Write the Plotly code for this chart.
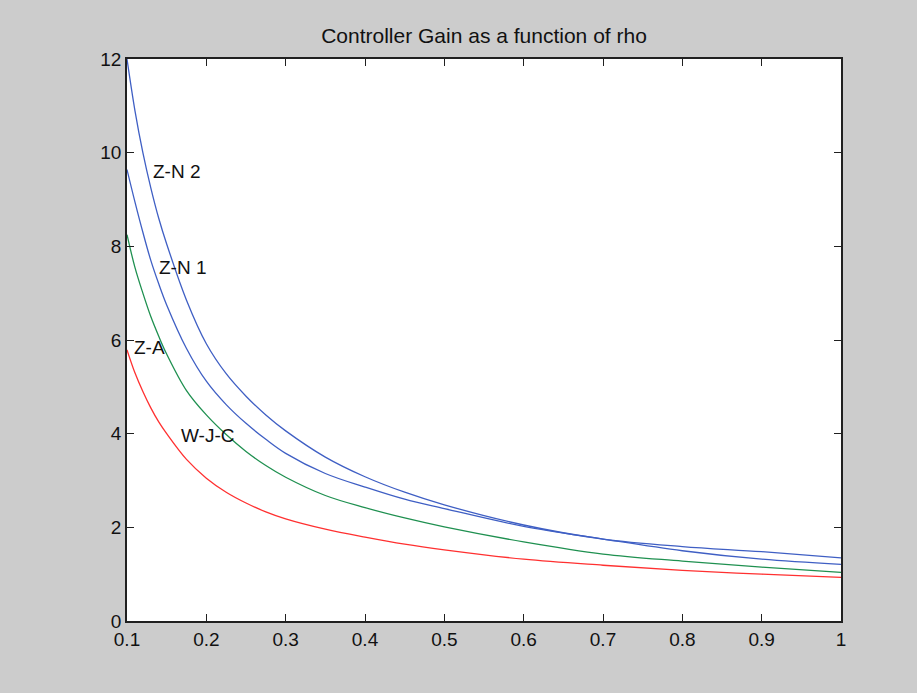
import plotly.graph_objects as go

rho = [0.1, 0.11, 0.12, 0.13, 0.14, 0.15, 0.175, 0.2, 0.225, 0.25, 0.275, 0.3,
       0.35, 0.4, 0.45, 0.5, 0.6, 0.7, 0.8, 0.9, 1.0]
zn2 = [12.0, 10.9, 10.0, 9.25, 8.6, 8.05, 6.85, 5.92, 5.28, 4.8, 4.4, 4.06,
       3.5, 3.08, 2.75, 2.48, 2.05, 1.75, 1.59, 1.48, 1.35]
zn1 = [9.64, 8.95, 8.3, 7.7, 7.2, 6.75, 5.82, 5.12, 4.62, 4.22, 3.88, 3.58,
       3.15, 2.86, 2.6, 2.4, 2.02, 1.75, 1.5, 1.32, 1.21]
za = [8.25, 7.55, 7.0, 6.5, 6.08, 5.7, 4.92, 4.4, 3.98, 3.62, 3.32, 3.07,
      2.68, 2.42, 2.2, 2.01, 1.69, 1.43, 1.28, 1.15, 1.04]
wjc = [5.79, 5.3, 4.9, 4.55, 4.25, 4.0, 3.45, 3.05, 2.75, 2.52, 2.33, 2.18,
       1.96, 1.79, 1.64, 1.52, 1.32, 1.19, 1.08, 1.0, 0.93]

label_text = ["Z-N 2", "Z-N 1", "Z-A", "W-J-C"]
label_x = [0.130, 0.138, 0.106, 0.166]
label_y = [9.59, 7.54, 5.83, 3.97]

x_ticks = [0.1, 0.2, 0.3, 0.4, 0.5, 0.6, 0.7, 0.8, 0.9, 1.0]
x_tick_labels = ["0.1", "0.2", "0.3", "0.4", "0.5", "0.6", "0.7", "0.8", "0.9", "1"]
y_ticks = [0, 2, 4, 6, 8, 10, 12]

blue = "#3f5fc4"
green = "#1f9050"
red = "#ff3030"
FONT = "Liberation Sans, Arial"

fig = go.Figure()
for ys, c in [(zn2, blue), (zn1, blue), (za, green), (wjc, red)]:
    fig.add_trace(go.Scatter(x=rho, y=ys, mode="lines",
                             line=dict(color=c, width=1.3, shape="spline", smoothing=1.0),
                             showlegend=False, hoverinfo="skip"))

for t, x, y in zip(label_text, label_x, label_y):
    fig.add_annotation(x=x, y=y, text=t, showarrow=False, xanchor="left", yanchor="middle",
                       font=dict(family=FONT, size=19, color="#111111"))

axis_common = dict(showgrid=False, zeroline=False, showline=True, linecolor="#202020",
                   linewidth=1.5, mirror="ticks", ticks="inside", ticklen=7,
                   tickcolor="#202020", tickwidth=1.2,
                   tickfont=dict(family=FONT, size=19, color="#111111"))

fig.update_xaxes(range=[0.1, 1.0], tickvals=x_ticks, ticktext=x_tick_labels, **axis_common)
fig.update_yaxes(range=[0, 12], tickvals=y_ticks, **axis_common)

fig.update_layout(
    width=917, height=693,
    paper_bgcolor="#cccccc", plot_bgcolor="#ffffff",
    margin=dict(l=127, r=76, t=59, b=72),
    title=dict(text="Controller Gain as a function of rho", x=0.5, xref="paper",
               y=1 - 36 / 693, yanchor="middle",
               font=dict(family=FONT, size=21, color="#111111")),
)

fig.write_html("out.html", config={"displayModeBar": False},
               post_script="document.body.style.margin='0';document.body.style.overflow='hidden';")
